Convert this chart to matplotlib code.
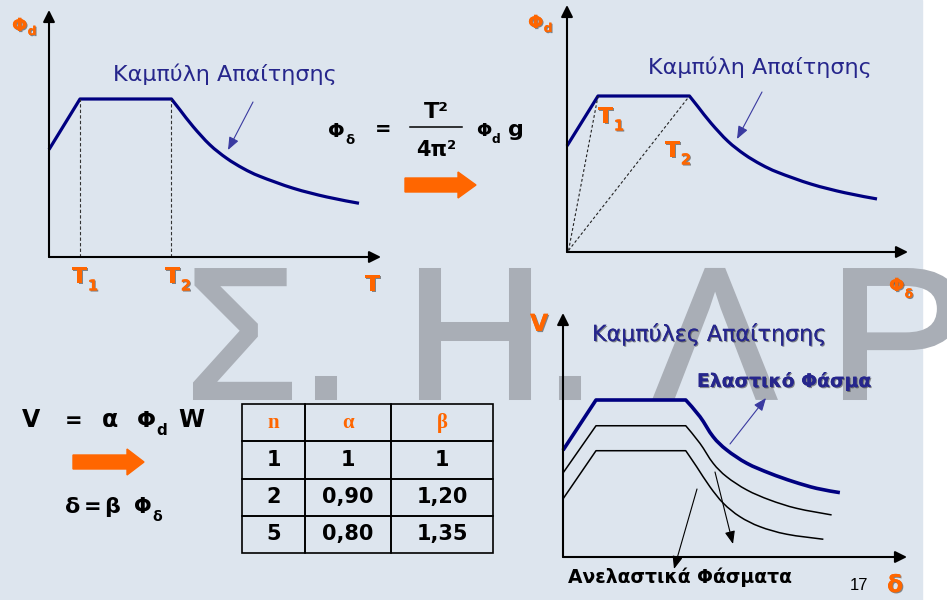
import matplotlib
matplotlib.use("Agg")
import matplotlib.pyplot as plt
import matplotlib.patches as mpatches
import matplotlib.patheffects as pe
from matplotlib.path import Path
from matplotlib.textpath import TextPath
from matplotlib.font_manager import FontProperties
from matplotlib.transforms import Affine2D

# demand curve of the two upper charts (x in units of T1, y relative to plateau)
T_pts = [0, 1, 3.95, 4.23, 4.65, 5.19, 5.73, 6.27, 6.81, 7.88, 8.96, 10.0]
phi_pts = [0.68, 1, 1, 0.93, 0.825, 0.71, 0.625, 0.56, 0.51, 0.435, 0.38, 0.34]
T1, T2 = 1.0, 3.95

# lower chart: elastic spectrum and two inelastic ones
d_el = [0, 1, 3.72, 4.15, 4.55, 4.96, 5.57, 6.27, 6.98, 7.69, 8.39]
v_el = [0.68, 1, 1, 0.894, 0.766, 0.682, 0.597, 0.533, 0.48, 0.437, 0.41]
d_n2 = [0, 1, 3.72, 4.15, 4.55, 4.96, 5.57, 6.27, 7.08, 8.14]
v_n2 = [0.535, 0.836, 0.836, 0.724, 0.597, 0.511, 0.427, 0.363, 0.31, 0.268]
d_n5 = [0, 1, 3.72, 4.05, 4.45, 4.86, 5.36, 5.97, 6.78, 7.89]
v_n5 = [0.37, 0.677, 0.677, 0.575, 0.448, 0.342, 0.257, 0.193, 0.145, 0.113]

# table
tbl_head = ['n', 'α', 'β']
tbl_n = ['1', '2', '5']
tbl_a = ['1', '0,90', '0,80']
tbl_b = ['1', '1,20', '1,35']

W, H = 947, 600
BG = '#dde5ee'
WM = '#a9aeb6'
ORANGE = '#ff6600'
NAVY = '#000080'
TNAVY = '#26268c'
FONT = 'DejaVu Sans'

fig = plt.figure(figsize=(W / 100, H / 100), dpi=100, facecolor='white')
bg = fig.add_axes([0, 0, 1, 1])
bg.set_xlim(0, W)
bg.set_ylim(H, 0)
bg.axis('off')
bg.add_patch(mpatches.Rectangle((0, 0), 922, H, color=BG, zorder=0))

# watermark letters: (char, left px, width px)
wm_font = FontProperties(family='Liberation Sans')
for ch, x0, wd in [('Σ', 193, 99), ('.', 315, 22), ('Η', 419, 112),
                   ('.', 559, 22), ('Λ', 653, 124), ('Ρ', 843, 118)]:
    tp = TextPath((0, 0), ch, size=186, prop=wm_font)
    ext = tp.get_extents()
    sx = (wd - 4) / ext.width
    tr = (Affine2D().translate(-ext.x0, 0).scale(sx, -1)
          .translate(x0 + 2, 398) + bg.transData)
    bg.add_patch(mpatches.PathPatch(tp, transform=tr, fc=WM, ec=WM,
                                    lw=2.9, zorder=1))

shadow = [pe.withSimplePatchShadow(offset=(0.8, -0.8), shadow_rgbFace='#222222', alpha=0.5), pe.Normal()]


def txt(x, y, s, size, color='black', weight='bold', ha='left', fx=None, family=FONT):
    return bg.text(x, y, s, fontsize=size, color=color, fontweight=weight, ha=ha,
                   va='baseline', family=family, zorder=6, path_effects=fx)


def sub_txt(x, y, main, sub, size, color='black', sub_dy=-1.5, fx=None):
    t = txt(x, y, main, size, color, fx=fx)
    bg.annotate(sub, xy=(1, 0), xycoords=t, xytext=(0.3, sub_dy),
                textcoords='offset points', fontsize=size * 0.68, color=color,
                fontweight='bold', va='baseline', ha='left', family=FONT,
                zorder=6, path_effects=fx)
    return t


def chart_axes(left, right, base, top, ux, uy):
    ax = fig.add_axes([left / W, 1 - base / H, (right - left) / W, (base - top) / H])
    ax.set_xlim(0, (right - left) / ux)
    ax.set_ylim(0, (base - top) / uy)
    ax.axis('off')
    ax.patch.set_alpha(0)
    return ax


def axis_arrows(ax, xtip, ytip):
    ap = dict(arrowstyle='-|>,head_length=0.5,head_width=0.25', lw=1.5,
              color='black', mutation_scale=14, shrinkA=0, shrinkB=0)
    ax.annotate('', xy=(xtip, 0), xytext=(0, 0), arrowprops=ap, annotation_clip=False)
    ax.annotate('', xy=(0, ytip), xytext=(0, 0), arrowprops=ap, annotation_clip=False)


def spectrum(ax, xs, ys, color, lw):
    # straight rise and plateau, then a smooth Bezier curve through the read points
    verts = [(xs[0], ys[0]), (xs[1], ys[1]), (xs[2], ys[2])]
    codes = [Path.MOVETO, Path.LINETO, Path.LINETO]
    p = list(zip(xs[2:], ys[2:]))
    n = len(p)
    for i in range(n - 1):
        p0 = p[i - 1] if i > 0 else p[i]
        p3 = p[i + 2] if i + 2 < n else p[i + 1]
        c1 = (p[i][0] + (p[i + 1][0] - p0[0]) / 6, p[i][1] + (p[i + 1][1] - p0[1]) / 6)
        c2 = (p[i + 1][0] - (p3[0] - p[i][0]) / 6, p[i + 1][1] - (p3[1] - p[i][1]) / 6)
        verts += [c1, c2, p[i + 1]]
        codes += [Path.CURVE4] * 3
    ax.add_patch(mpatches.PathPatch(Path(verts, codes), fill=False, ec=color, lw=lw,
                                    joinstyle='round', capstyle='butt', clip_on=False))


def thin_arrow(tail, head, color):
    bg.annotate('', xy=head, xytext=tail, zorder=6,
                arrowprops=dict(arrowstyle='-|>,head_length=0.55,head_width=0.22',
                                lw=0.8, color=color, mutation_scale=14,
                                shrinkA=0, shrinkB=0))


# ---- chart 1: spectrum vs T
ax1 = chart_axes(49, 390, 257, 5, 31, 158)
axis_arrows(ax1, (381 - 49) / 31, (257 - 10) / 158)
for t in (T1, T2):
    ax1.plot([t, t], [0, 1], ls=(0, (3, 2)), lw=0.8, color='#333333', clip_on=False)
spectrum(ax1, T_pts, phi_pts, NAVY, 2.3)

txt(113, 81, 'Καμπύλη Απαίτησης', 16, TNAVY, weight='normal')
thin_arrow((253, 102), (228, 150), '#3a3aa0')
sub_txt(12, 31, 'Φ', 'd', 13, ORANGE, sub_dy=0, fx=shadow)
sub_txt(72, 283, 'T', '1', 16, ORANGE, sub_dy=-2.5, fx=shadow)
sub_txt(165, 283, 'T', '2', 16, ORANGE, sub_dy=-2.5, fx=shadow)
txt(365, 291, 'T', 16, ORANGE, fx=shadow)

# ---- chart 2: spectrum vs displacement (same curve redrawn)
ax2 = chart_axes(567, 915, 252, 2, 31, 156)
axis_arrows(ax2, (908 - 567) / 31, (252 - 5) / 156)
for t in (T1, T2):
    ax2.plot([0.05, t], [0.01, 1], ls=(0, (2.5, 2)), lw=0.8, color='#222222', clip_on=False)
spectrum(ax2, T_pts, phi_pts, NAVY, 2.3)

txt(648, 74, 'Καμπύλη Απαίτησης', 16, TNAVY, weight='normal')
thin_arrow((762, 92), (737, 139), '#3a3aa0')
sub_txt(528, 28, 'Φ', 'd', 13, ORANGE, sub_dy=0, fx=shadow)
sub_txt(598, 123, 'T', '1', 16, ORANGE, sub_dy=-2.5, fx=shadow)
sub_txt(665, 157, 'T', '2', 16, ORANGE, sub_dy=-2.5, fx=shadow)
sub_txt(889, 291, 'Φ', 'δ', 13, ORANGE, sub_dy=-2, fx=shadow)

# ---- formula between the top charts
sub_txt(328, 137, 'Φ', 'δ', 14, sub_dy=-2.5)
txt(375, 135, '=', 14)
txt(436, 118, 'T²', 16, ha='center')
bg.plot([410, 462], [127, 127], color='black', lw=1.1, zorder=6)
txt(436, 156, '4π²', 15, ha='center')
sub_txt(476, 136, 'Φ', 'd', 13, sub_dy=-2.5)
txt(508, 136, 'g', 16)
bg.add_patch(mpatches.FancyArrow(405, 185, 71, 0, width=14, head_width=26,
                                 head_length=18, length_includes_head=True,
                                 color=ORANGE, zorder=6))

# ---- chart 3: V vs delta
ax3 = chart_axes(563, 915, 557, 305, 33, 157)
axis_arrows(ax3, (907 - 563) / 33, (557 - 313) / 157)
spectrum(ax3, d_el, v_el, NAVY, 2.6)
spectrum(ax3, d_n2, v_n2, 'black', 1.1)
spectrum(ax3, d_n5, v_n5, 'black', 1.1)

txt(592, 341, 'Καμπύλες Απαίτησης', 16, TNAVY, weight='normal', fx=shadow)
txt(697, 387, 'Ελαστικό Φάσμα', 13.5, TNAVY, fx=shadow)
txt(568, 583, 'Ανελαστικά Φάσματα', 13.5)
txt(850, 590, '17', 12, weight='normal', family='Liberation Sans')
txt(530, 331, 'V', 17, ORANGE, fx=shadow)
txt(887, 592, 'δ', 17, ORANGE, fx=shadow)
thin_arrow((730, 444), (766, 398), '#3a3aa0')
thin_arrow((715, 472), (733, 544), 'black')
thin_arrow((697, 489), (674, 569), 'black')

# ---- left formulas
txt(22, 427, 'V', 17)
txt(65, 427, '=', 15)
txt(102, 427, 'α', 17)
sub_txt(137, 427, 'Φ', 'd', 16, sub_dy=-3)
txt(178, 427, 'W', 17)
bg.add_patch(mpatches.FancyArrow(73, 462, 71, 0, width=14, head_width=26,
                                 head_length=17, length_includes_head=True,
                                 color=ORANGE, zorder=6))
txt(65, 513, 'δ', 16)
txt(84, 513, '=', 15)
txt(104, 513, 'β', 16)
sub_txt(134, 513, 'Φ', 'δ', 15, sub_dy=-3)

# ---- table
cells = [tbl_head] + [list(r) for r in zip(tbl_n, tbl_a, tbl_b)]
tb = bg.table(cellText=cells, cellLoc='center', colWidths=[63, 86, 102],
              bbox=[242 / W, 1 - 553 / H, (493 - 242) / W, (553 - 404) / H])
tb.auto_set_font_size(False)
tb.set_zorder(6)
for (r, c), cell in tb.get_celld().items():
    cell.set_facecolor('none')
    cell.set_edgecolor('black')
    cell.set_linewidth(1.2)
    t = cell.get_text()
    t.set_fontweight('bold')
    t.set_fontsize(15)
    if r == 0:
        t.set_color(ORANGE)
        t.set_family('Liberation Serif')
    else:
        t.set_family(FONT)

fig.savefig('out.png', dpi=100, facecolor='white')
